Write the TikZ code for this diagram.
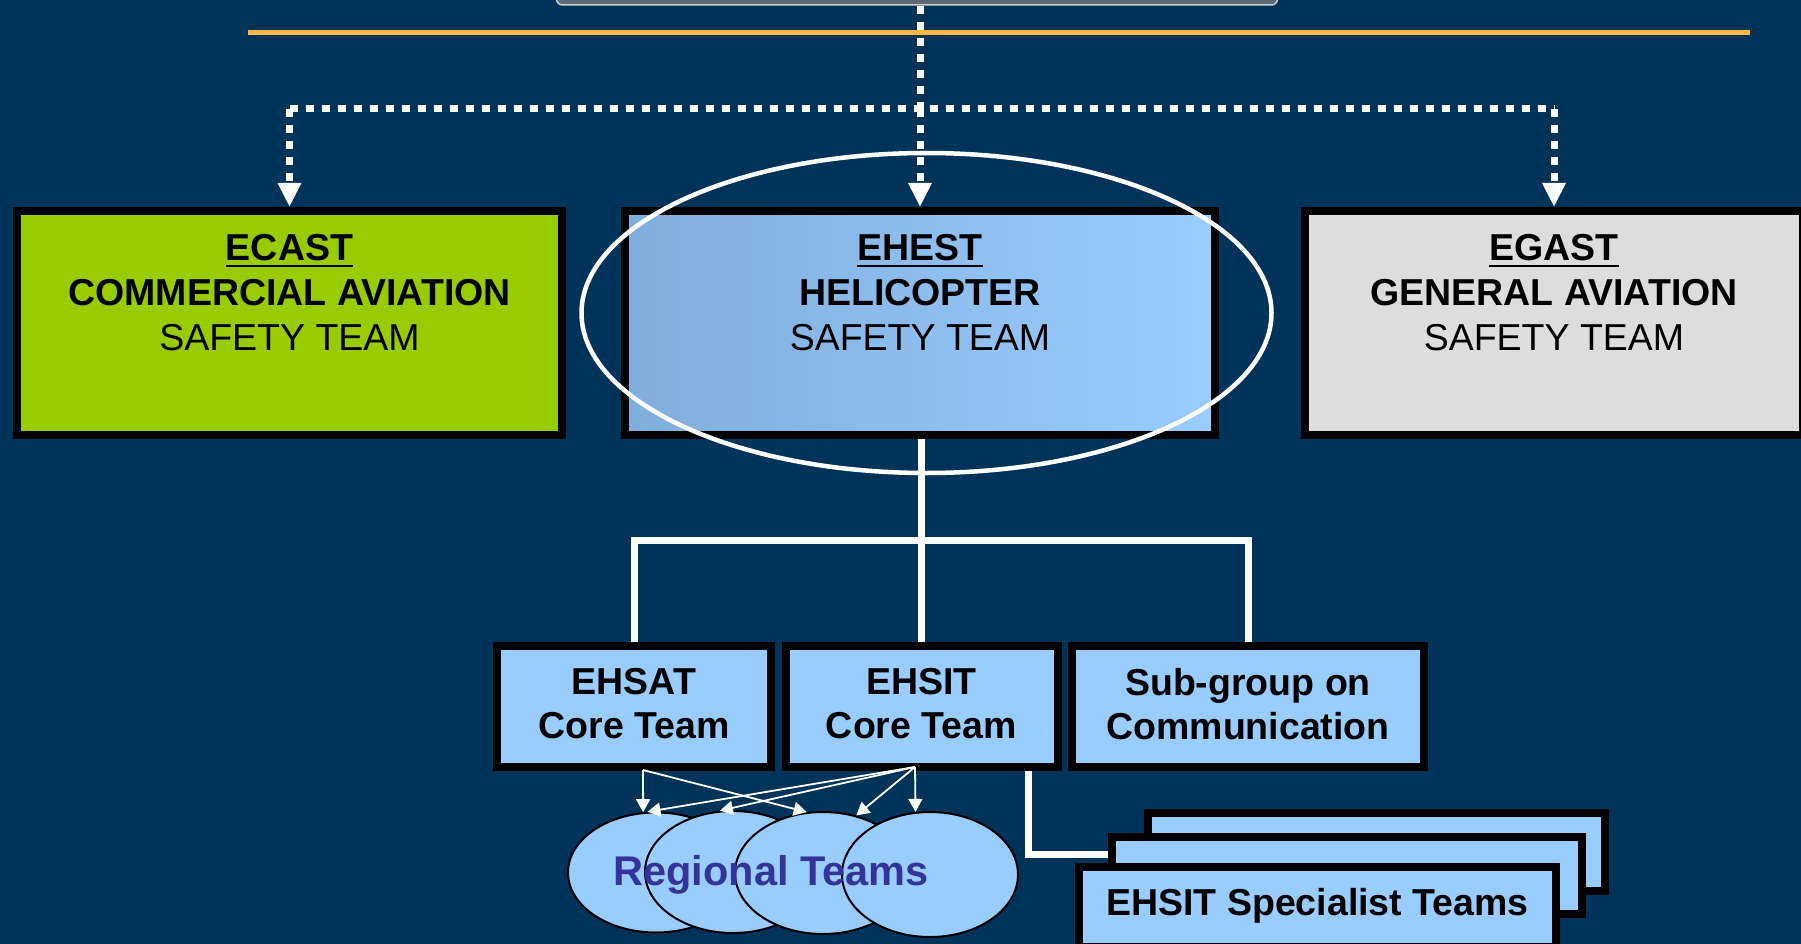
\documentclass[tikz,border=0pt]{standalone}
\usepackage{fontspec}
\setmainfont{Liberation Sans}
\usetikzlibrary{arrows.meta,shapes.geometric}
\definecolor{bg}{HTML}{003359}
\definecolor{orangeline}{HTML}{F9B847}
\definecolor{topgray}{HTML}{5E6A72}
\definecolor{topborder}{HTML}{C8CDD0}
\definecolor{green}{HTML}{99CC00}
\definecolor{lgray}{HTML}{DDDDDD}
\definecolor{lblue}{HTML}{99CCFF}
\definecolor{ehestL}{HTML}{80AEDB}
\definecolor{rtext}{HTML}{333399}
\newcommand\ulx[1]{\sbox0{#1}\rlap{\rule[-6.5pt]{\wd0}{2.6pt}}\usebox0}
\begin{document}
\begin{tikzpicture}[x=1pt,y=-1pt,
  bigbox/.style={draw=black,line width=8pt,inner sep=0pt,minimum height=224pt},
  smallbox/.style={draw=black,line width=8pt,fill=lblue,inner sep=0pt,minimum height=121pt},
  specbox/.style={draw=black,line width=8pt,fill=lblue,inner sep=0pt},
  lbl/.style={align=center,inner sep=0pt,anchor=north,font=\fontsize{37.5}{44.6}\selectfont},
  dots/.style={white,line width=7pt,dash pattern=on 8pt off 8pt},
  dotarrow/.style={dots,-{Triangle[length=24pt,width=22pt]}},
  tree/.style={white,line width=7pt},
  thinarrow/.style={white,line width=1.8pt,-{Triangle[length=13pt,width=14pt]}},
  team/.style={ellipse,draw=black,line width=2pt,fill=lblue,inner sep=0pt,minimum width=176pt},
]
\useasboundingbox (0,0) rectangle (1801,944);
\clip (0,0) rectangle (1801,944);
\fill[bg] (0,0) rectangle (1801,944);

% top box (cut off)
\node[draw=topborder,line width=1.5pt,fill=topgray,rounded corners=6pt,
      minimum width=721pt,minimum height=50pt,inner sep=0pt] (top) at (917,-20) {};

% orange rule
\coordinate (ol) at (248,33);
\coordinate (orr) at (1750,33);
\draw[orangeline,line width=5pt] (ol) -- (orr);

% top-level boxes
\node[bigbox,fill=green,minimum width=545pt] (ecast) at (289.5,323) {};
\node[bigbox,left color=ehestL,right color=lblue,minimum width=590pt] (ehest) at (920,323) {};
\node[bigbox,fill=lgray,minimum width=498pt] (egast) at (1554,323) {};

\node[lbl] (ecastt) at (289.5,234.5) {{\bfseries\ulx{ECAST}}\\{\bfseries COMMERCIAL AVIATION}\\SAFETY TEAM};
\node[lbl] (ehestt) at (920,234.5) {{\bfseries\ulx{EHEST}}\\{\bfseries HELICOPTER}\\SAFETY TEAM};
\node[lbl] (egastt) at (1554,234.5) {{\bfseries\ulx{EGAST}}\\{\bfseries GENERAL AVIATION}\\SAFETY TEAM};

% dotted connectors
\coordinate (hd) at (920,109);
\draw[dots] (top.south -| hd) -- (hd);
\draw[dots] (ecast.north |- hd) -- (egast.north |- hd);
\draw[dotarrow] (ecast.north |- hd) -- (ecast.north);
\draw[dotarrow] (hd) -- (ehest.north -| hd);
\draw[dotarrow] (egast.north |- hd) -- (egast.north);

% ring around EHEST
\node[ellipse,draw=white,line width=4.5pt,inner sep=0pt,
      minimum width=690pt,minimum height=320pt] (ring) at (926.5,313) {};

% second-level boxes
\node[smallbox,minimum width=274pt] (ehsat) at (634,706.5) {};
\node[smallbox,minimum width=272pt] (ehsit) at (921.5,706.5) {};
\node[smallbox,minimum width=352pt] (sub) at (1248,706.5) {};
\node[lbl,font=\fontsize{37.5}{44}\selectfont\bfseries] (ehsatt) at (634,668.5) {EHSAT\\Core Team};
\node[lbl,font=\fontsize{37.5}{44}\selectfont\bfseries] (ehsitt) at (921.5,668.5) {EHSIT\\Core Team};
\node[lbl,font=\fontsize{37.5}{44}\selectfont\bfseries] (subt) at (1248,668.5) {Sub-group on\\Communication};

% tree connectors
\coordinate (hb) at (921,540);
\draw[tree] (ehest.south -| hb) -- (ehsit.north -| hb);
\draw[tree] (ehsat.north) -- (ehsat.north |- hb) -- (sub.north |- hb) -- (sub.north);

% specialist teams
\node[specbox,minimum width=457pt,minimum height=78pt] (spec3) at (1376.5,852) {};
\node[specbox,minimum width=470pt,minimum height=77pt] (spec2) at (1347,875.5) {};
\node[specbox,minimum width=477pt,minimum height=80pt,text height=26pt,text depth=10pt,
      font=\fontsize{37.5}{44}\selectfont\bfseries] (spec1) at (1317.5,907) {EHSIT Specialist Teams};
\coordinate (lc) at (1028,854);
\draw[tree] (ehsit.south -| lc) -- (lc) -- (lc -| spec2.west);

% regional teams
\node[team,minimum height=120pt] (rt1) at (656,872.5) {};
\node[team,minimum height=122pt] (rt2) at (733,872) {};
\node[team,minimum height=122pt] (rt3) at (823,873) {};
\node[team,minimum height=125pt] (rt4) at (930,874.5) {};
\node[font=\fontsize{41.5}{50}\selectfont\bfseries,text=rtext,anchor=base,inner sep=0pt] (rtl) at (771,885) {Regional Teams};

\coordinate (o1) at (643,770);
\coordinate (o2) at (915,767);
\draw[thinarrow] (o1) -- (rt1.102);
\draw[thinarrow] (o1) -- (rt3.105);
\draw[thinarrow] (o2) -- (rt1.98.5);
\draw[thinarrow] (o2) -- (rt2.102.4);
\draw[thinarrow] (o2) -- (rt3.60.6);
\draw[thinarrow] (o2) -- (rt4.103.3);
\end{tikzpicture}
\end{document}
